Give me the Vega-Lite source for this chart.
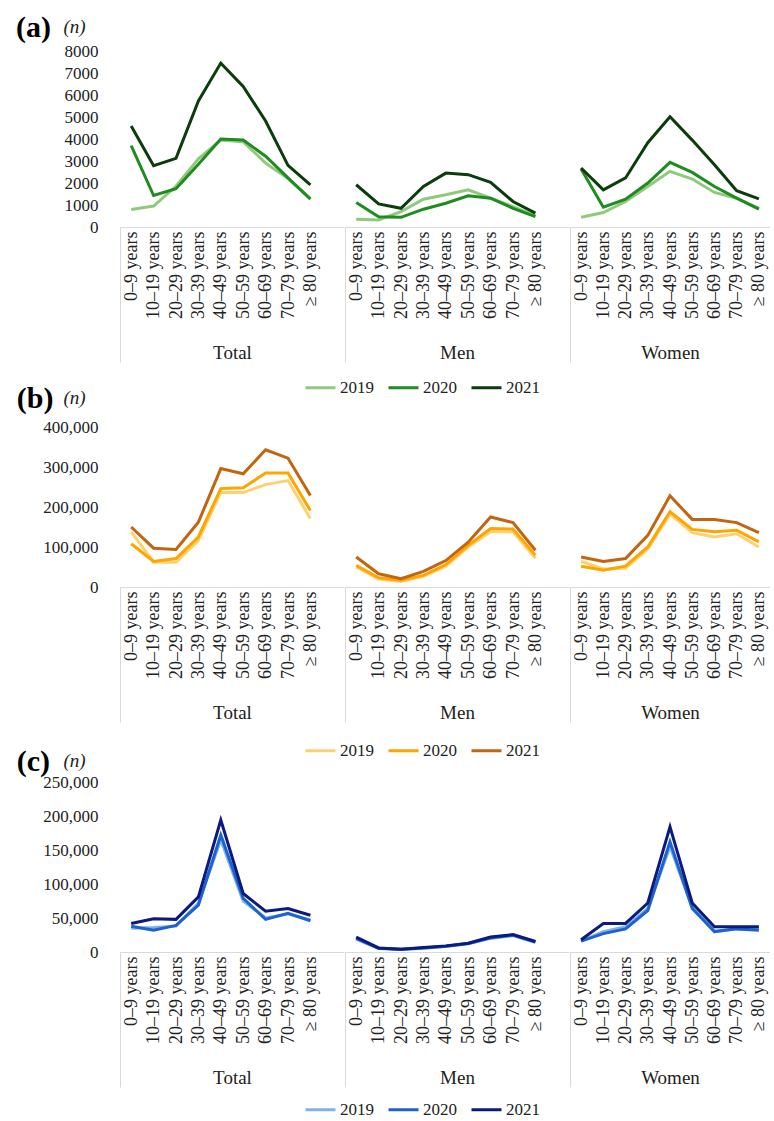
{
  "$schema": "https://vega.github.io/schema/vega-lite/v6.json",
  "background": "white",
  "padding": {"left": 16, "top": 13, "right": 0, "bottom": 0},
  "config": {
    "view": {"stroke": null},
    "font": "Liberation Serif",
    "line": {"strokeWidth": 3},
    "axisX": {
      "grid": false,
      "domainColor": "#d9d9d9",
      "domainWidth": 1,
      "tickBand": "extent",
      "tickColor": "#d9d9d9",
      "tickWidth": 1,
      "tickSize": 135,
      "labelAngle": 270,
      "labelPadding": -131,
      "labelFont": "Liberation Serif",
      "labelColor": "#222222",
      "labelOverlap": false,
      "titlePadding": -19,
      "titleFont": "Liberation Serif",
      "titleFontSize": 19,
      "titleFontWeight": "normal",
      "titleColor": "#222222"
    },
    "axisY": {
      "grid": false,
      "domain": false,
      "ticks": false,
      "labelPadding": 22,
      "labelFont": "Liberation Serif",
      "labelFontSize": 17,
      "labelColor": "#222222",
      "titleAngle": 0,
      "titleAlign": "left",
      "titleBaseline": "middle",
      "titleFont": "Liberation Serif",
      "titleFontStyle": "italic",
      "titleFontWeight": "normal",
      "titleFontSize": 19,
      "titleColor": "#222222"
    },
    "legend": {
      "direction": "horizontal",
      "symbolType": "stroke",
      "symbolStrokeWidth": 3.5,
      "symbolSize": 900,
      "labelFont": "Liberation Serif",
      "labelFontSize": 17,
      "labelColor": "#222222",
      "labelOffset": 3,
      "columnPadding": 8
    },
    "title": {
      "font": "Liberation Serif",
      "fontSize": 30,
      "fontWeight": "bold",
      "color": "#000000",
      "anchor": "start",
      "frame": "bounds",
      "offset": -26
    }
  },
  "datasets": {
    "a": [
      {"g": "Total", "age": "0–9 years", "year": "2019", "n": 800},
      {"g": "Total", "age": "10–19 years", "year": "2019", "n": 950},
      {"g": "Total", "age": "20–29 years", "year": "2019", "n": 1850},
      {"g": "Total", "age": "30–39 years", "year": "2019", "n": 3100},
      {"g": "Total", "age": "40–49 years", "year": "2019", "n": 3950},
      {"g": "Total", "age": "50–59 years", "year": "2019", "n": 3880},
      {"g": "Total", "age": "60–69 years", "year": "2019", "n": 2900},
      {"g": "Total", "age": "70–79 years", "year": "2019", "n": 2200},
      {"g": "Total", "age": "≥ 80 years", "year": "2019", "n": 1300},
      {"g": "Total", "age": "0–9 years", "year": "2020", "n": 3700},
      {"g": "Total", "age": "10–19 years", "year": "2020", "n": 1430},
      {"g": "Total", "age": "20–29 years", "year": "2020", "n": 1740},
      {"g": "Total", "age": "30–39 years", "year": "2020", "n": 2850},
      {"g": "Total", "age": "40–49 years", "year": "2020", "n": 4000},
      {"g": "Total", "age": "50–59 years", "year": "2020", "n": 3950},
      {"g": "Total", "age": "60–69 years", "year": "2020", "n": 3220},
      {"g": "Total", "age": "70–79 years", "year": "2020", "n": 2230},
      {"g": "Total", "age": "≥ 80 years", "year": "2020", "n": 1270},
      {"g": "Total", "age": "0–9 years", "year": "2021", "n": 4590},
      {"g": "Total", "age": "10–19 years", "year": "2021", "n": 2790},
      {"g": "Total", "age": "20–29 years", "year": "2021", "n": 3120},
      {"g": "Total", "age": "30–39 years", "year": "2021", "n": 5730},
      {"g": "Total", "age": "40–49 years", "year": "2021", "n": 7450},
      {"g": "Total", "age": "50–59 years", "year": "2021", "n": 6390},
      {"g": "Total", "age": "60–69 years", "year": "2021", "n": 4820},
      {"g": "Total", "age": "70–79 years", "year": "2021", "n": 2800},
      {"g": "Total", "age": "≥ 80 years", "year": "2021", "n": 1920},
      {"g": "Men", "age": "0–9 years", "year": "2019", "n": 350},
      {"g": "Men", "age": "10–19 years", "year": "2019", "n": 320},
      {"g": "Men", "age": "20–29 years", "year": "2019", "n": 700},
      {"g": "Men", "age": "30–39 years", "year": "2019", "n": 1265},
      {"g": "Men", "age": "40–49 years", "year": "2019", "n": 1465},
      {"g": "Men", "age": "50–59 years", "year": "2019", "n": 1690},
      {"g": "Men", "age": "60–69 years", "year": "2019", "n": 1310},
      {"g": "Men", "age": "70–79 years", "year": "2019", "n": 930},
      {"g": "Men", "age": "≥ 80 years", "year": "2019", "n": 500},
      {"g": "Men", "age": "0–9 years", "year": "2020", "n": 1110},
      {"g": "Men", "age": "10–19 years", "year": "2020", "n": 470},
      {"g": "Men", "age": "20–29 years", "year": "2020", "n": 440},
      {"g": "Men", "age": "30–39 years", "year": "2020", "n": 810},
      {"g": "Men", "age": "40–49 years", "year": "2020", "n": 1080},
      {"g": "Men", "age": "50–59 years", "year": "2020", "n": 1420},
      {"g": "Men", "age": "60–69 years", "year": "2020", "n": 1310},
      {"g": "Men", "age": "70–79 years", "year": "2020", "n": 850},
      {"g": "Men", "age": "≥ 80 years", "year": "2020", "n": 470},
      {"g": "Men", "age": "0–9 years", "year": "2021", "n": 1920},
      {"g": "Men", "age": "10–19 years", "year": "2021", "n": 1050},
      {"g": "Men", "age": "20–29 years", "year": "2021", "n": 850},
      {"g": "Men", "age": "30–39 years", "year": "2021", "n": 1840},
      {"g": "Men", "age": "40–49 years", "year": "2021", "n": 2450},
      {"g": "Men", "age": "50–59 years", "year": "2021", "n": 2380},
      {"g": "Men", "age": "60–69 years", "year": "2021", "n": 2030},
      {"g": "Men", "age": "70–79 years", "year": "2021", "n": 1160},
      {"g": "Men", "age": "≥ 80 years", "year": "2021", "n": 630},
      {"g": "Women", "age": "0–9 years", "year": "2019", "n": 440},
      {"g": "Women", "age": "10–19 years", "year": "2019", "n": 655},
      {"g": "Women", "age": "20–29 years", "year": "2019", "n": 1160},
      {"g": "Women", "age": "30–39 years", "year": "2019", "n": 1840},
      {"g": "Women", "age": "40–49 years", "year": "2019", "n": 2530},
      {"g": "Women", "age": "50–59 years", "year": "2019", "n": 2180},
      {"g": "Women", "age": "60–69 years", "year": "2019", "n": 1570},
      {"g": "Women", "age": "70–79 years", "year": "2019", "n": 1310},
      {"g": "Women", "age": "≥ 80 years", "year": "2019", "n": 850},
      {"g": "Women", "age": "0–9 years", "year": "2020", "n": 2640},
      {"g": "Women", "age": "10–19 years", "year": "2020", "n": 900},
      {"g": "Women", "age": "20–29 years", "year": "2020", "n": 1265},
      {"g": "Women", "age": "30–39 years", "year": "2020", "n": 2000},
      {"g": "Women", "age": "40–49 years", "year": "2020", "n": 2940},
      {"g": "Women", "age": "50–59 years", "year": "2020", "n": 2480},
      {"g": "Women", "age": "60–69 years", "year": "2020", "n": 1840},
      {"g": "Women", "age": "70–79 years", "year": "2020", "n": 1310},
      {"g": "Women", "age": "≥ 80 years", "year": "2020", "n": 810},
      {"g": "Women", "age": "0–9 years", "year": "2021", "n": 2680},
      {"g": "Women", "age": "10–19 years", "year": "2021", "n": 1690},
      {"g": "Women", "age": "20–29 years", "year": "2021", "n": 2230},
      {"g": "Women", "age": "30–39 years", "year": "2021", "n": 3830},
      {"g": "Women", "age": "40–49 years", "year": "2021", "n": 5010},
      {"g": "Women", "age": "50–59 years", "year": "2021", "n": 3950},
      {"g": "Women", "age": "60–69 years", "year": "2021", "n": 2830},
      {"g": "Women", "age": "70–79 years", "year": "2021", "n": 1650},
      {"g": "Women", "age": "≥ 80 years", "year": "2021", "n": 1280}
    ],
    "b": [
      {"g": "Total", "age": "0–9 years", "year": "2019", "n": 138000},
      {"g": "Total", "age": "10–19 years", "year": "2019", "n": 62000},
      {"g": "Total", "age": "20–29 years", "year": "2019", "n": 62000},
      {"g": "Total", "age": "30–39 years", "year": "2019", "n": 116000},
      {"g": "Total", "age": "40–49 years", "year": "2019", "n": 237000},
      {"g": "Total", "age": "50–59 years", "year": "2019", "n": 236000},
      {"g": "Total", "age": "60–69 years", "year": "2019", "n": 256000},
      {"g": "Total", "age": "70–79 years", "year": "2019", "n": 266000},
      {"g": "Total", "age": "≥ 80 years", "year": "2019", "n": 171000},
      {"g": "Total", "age": "0–9 years", "year": "2020", "n": 108000},
      {"g": "Total", "age": "10–19 years", "year": "2020", "n": 64000},
      {"g": "Total", "age": "20–29 years", "year": "2020", "n": 71000},
      {"g": "Total", "age": "30–39 years", "year": "2020", "n": 125000},
      {"g": "Total", "age": "40–49 years", "year": "2020", "n": 246000},
      {"g": "Total", "age": "50–59 years", "year": "2020", "n": 248000},
      {"g": "Total", "age": "60–69 years", "year": "2020", "n": 285000},
      {"g": "Total", "age": "70–79 years", "year": "2020", "n": 285000},
      {"g": "Total", "age": "≥ 80 years", "year": "2020", "n": 191000},
      {"g": "Total", "age": "0–9 years", "year": "2021", "n": 150000},
      {"g": "Total", "age": "10–19 years", "year": "2021", "n": 97000},
      {"g": "Total", "age": "20–29 years", "year": "2021", "n": 94000},
      {"g": "Total", "age": "30–39 years", "year": "2021", "n": 162000},
      {"g": "Total", "age": "40–49 years", "year": "2021", "n": 296000},
      {"g": "Total", "age": "50–59 years", "year": "2021", "n": 283000},
      {"g": "Total", "age": "60–69 years", "year": "2021", "n": 343000},
      {"g": "Total", "age": "70–79 years", "year": "2021", "n": 322000},
      {"g": "Total", "age": "≥ 80 years", "year": "2021", "n": 229000},
      {"g": "Men", "age": "0–9 years", "year": "2019", "n": 50000},
      {"g": "Men", "age": "10–19 years", "year": "2019", "n": 20000},
      {"g": "Men", "age": "20–29 years", "year": "2019", "n": 14000},
      {"g": "Men", "age": "30–39 years", "year": "2019", "n": 27000},
      {"g": "Men", "age": "40–49 years", "year": "2019", "n": 52000},
      {"g": "Men", "age": "50–59 years", "year": "2019", "n": 100000},
      {"g": "Men", "age": "60–69 years", "year": "2019", "n": 138000},
      {"g": "Men", "age": "70–79 years", "year": "2019", "n": 138000},
      {"g": "Men", "age": "≥ 80 years", "year": "2019", "n": 72000},
      {"g": "Men", "age": "0–9 years", "year": "2020", "n": 54000},
      {"g": "Men", "age": "10–19 years", "year": "2020", "n": 23000},
      {"g": "Men", "age": "20–29 years", "year": "2020", "n": 17000},
      {"g": "Men", "age": "30–39 years", "year": "2020", "n": 29000},
      {"g": "Men", "age": "40–49 years", "year": "2020", "n": 56000},
      {"g": "Men", "age": "50–59 years", "year": "2020", "n": 104000},
      {"g": "Men", "age": "60–69 years", "year": "2020", "n": 146000},
      {"g": "Men", "age": "70–79 years", "year": "2020", "n": 145000},
      {"g": "Men", "age": "≥ 80 years", "year": "2020", "n": 79000},
      {"g": "Men", "age": "0–9 years", "year": "2021", "n": 75000},
      {"g": "Men", "age": "10–19 years", "year": "2021", "n": 33000},
      {"g": "Men", "age": "20–29 years", "year": "2021", "n": 21000},
      {"g": "Men", "age": "30–39 years", "year": "2021", "n": 39000},
      {"g": "Men", "age": "40–49 years", "year": "2021", "n": 66000},
      {"g": "Men", "age": "50–59 years", "year": "2021", "n": 112000},
      {"g": "Men", "age": "60–69 years", "year": "2021", "n": 175000},
      {"g": "Men", "age": "70–79 years", "year": "2021", "n": 161000},
      {"g": "Men", "age": "≥ 80 years", "year": "2021", "n": 92000},
      {"g": "Women", "age": "0–9 years", "year": "2019", "n": 64000},
      {"g": "Women", "age": "10–19 years", "year": "2019", "n": 45000},
      {"g": "Women", "age": "20–29 years", "year": "2019", "n": 47000},
      {"g": "Women", "age": "30–39 years", "year": "2019", "n": 95000},
      {"g": "Women", "age": "40–49 years", "year": "2019", "n": 182000},
      {"g": "Women", "age": "50–59 years", "year": "2019", "n": 136000},
      {"g": "Women", "age": "60–69 years", "year": "2019", "n": 125000},
      {"g": "Women", "age": "70–79 years", "year": "2019", "n": 133000},
      {"g": "Women", "age": "≥ 80 years", "year": "2019", "n": 100000},
      {"g": "Women", "age": "0–9 years", "year": "2020", "n": 52000},
      {"g": "Women", "age": "10–19 years", "year": "2020", "n": 42000},
      {"g": "Women", "age": "20–29 years", "year": "2020", "n": 52000},
      {"g": "Women", "age": "30–39 years", "year": "2020", "n": 100000},
      {"g": "Women", "age": "40–49 years", "year": "2020", "n": 188000},
      {"g": "Women", "age": "50–59 years", "year": "2020", "n": 144000},
      {"g": "Women", "age": "60–69 years", "year": "2020", "n": 138000},
      {"g": "Women", "age": "70–79 years", "year": "2020", "n": 142000},
      {"g": "Women", "age": "≥ 80 years", "year": "2020", "n": 113000},
      {"g": "Women", "age": "0–9 years", "year": "2021", "n": 75000},
      {"g": "Women", "age": "10–19 years", "year": "2021", "n": 64000},
      {"g": "Women", "age": "20–29 years", "year": "2021", "n": 71000},
      {"g": "Women", "age": "30–39 years", "year": "2021", "n": 129000},
      {"g": "Women", "age": "40–49 years", "year": "2021", "n": 228000},
      {"g": "Women", "age": "50–59 years", "year": "2021", "n": 169000},
      {"g": "Women", "age": "60–69 years", "year": "2021", "n": 169000},
      {"g": "Women", "age": "70–79 years", "year": "2021", "n": 161000},
      {"g": "Women", "age": "≥ 80 years", "year": "2021", "n": 136000}
    ],
    "c": [
      {"g": "Total", "age": "0–9 years", "year": "2019", "n": 35000},
      {"g": "Total", "age": "10–19 years", "year": "2019", "n": 36000},
      {"g": "Total", "age": "20–29 years", "year": "2019", "n": 38000},
      {"g": "Total", "age": "30–39 years", "year": "2019", "n": 72000},
      {"g": "Total", "age": "40–49 years", "year": "2019", "n": 165000},
      {"g": "Total", "age": "50–59 years", "year": "2019", "n": 75000},
      {"g": "Total", "age": "60–69 years", "year": "2019", "n": 50000},
      {"g": "Total", "age": "70–79 years", "year": "2019", "n": 56000},
      {"g": "Total", "age": "≥ 80 years", "year": "2019", "n": 47000},
      {"g": "Total", "age": "0–9 years", "year": "2020", "n": 38000},
      {"g": "Total", "age": "10–19 years", "year": "2020", "n": 32000},
      {"g": "Total", "age": "20–29 years", "year": "2020", "n": 39000},
      {"g": "Total", "age": "30–39 years", "year": "2020", "n": 69000},
      {"g": "Total", "age": "40–49 years", "year": "2020", "n": 172000},
      {"g": "Total", "age": "50–59 years", "year": "2020", "n": 79000},
      {"g": "Total", "age": "60–69 years", "year": "2020", "n": 48000},
      {"g": "Total", "age": "70–79 years", "year": "2020", "n": 57000},
      {"g": "Total", "age": "≥ 80 years", "year": "2020", "n": 46000},
      {"g": "Total", "age": "0–9 years", "year": "2021", "n": 42000},
      {"g": "Total", "age": "10–19 years", "year": "2021", "n": 49000},
      {"g": "Total", "age": "20–29 years", "year": "2021", "n": 48000},
      {"g": "Total", "age": "30–39 years", "year": "2021", "n": 81000},
      {"g": "Total", "age": "40–49 years", "year": "2021", "n": 194000},
      {"g": "Total", "age": "50–59 years", "year": "2021", "n": 86000},
      {"g": "Total", "age": "60–69 years", "year": "2021", "n": 60000},
      {"g": "Total", "age": "70–79 years", "year": "2021", "n": 64000},
      {"g": "Total", "age": "≥ 80 years", "year": "2021", "n": 54000},
      {"g": "Men", "age": "0–9 years", "year": "2019", "n": 19000},
      {"g": "Men", "age": "10–19 years", "year": "2019", "n": 5000},
      {"g": "Men", "age": "20–29 years", "year": "2019", "n": 3500},
      {"g": "Men", "age": "30–39 years", "year": "2019", "n": 5500},
      {"g": "Men", "age": "40–49 years", "year": "2019", "n": 8000},
      {"g": "Men", "age": "50–59 years", "year": "2019", "n": 12000},
      {"g": "Men", "age": "60–69 years", "year": "2019", "n": 20000},
      {"g": "Men", "age": "70–79 years", "year": "2019", "n": 24000},
      {"g": "Men", "age": "≥ 80 years", "year": "2019", "n": 14000},
      {"g": "Men", "age": "0–9 years", "year": "2020", "n": 20000},
      {"g": "Men", "age": "10–19 years", "year": "2020", "n": 5500},
      {"g": "Men", "age": "20–29 years", "year": "2020", "n": 4000},
      {"g": "Men", "age": "30–39 years", "year": "2020", "n": 6000},
      {"g": "Men", "age": "40–49 years", "year": "2020", "n": 8500},
      {"g": "Men", "age": "50–59 years", "year": "2020", "n": 12500},
      {"g": "Men", "age": "60–69 years", "year": "2020", "n": 21000},
      {"g": "Men", "age": "70–79 years", "year": "2020", "n": 25000},
      {"g": "Men", "age": "≥ 80 years", "year": "2020", "n": 15000},
      {"g": "Men", "age": "0–9 years", "year": "2021", "n": 22000},
      {"g": "Men", "age": "10–19 years", "year": "2021", "n": 6000},
      {"g": "Men", "age": "20–29 years", "year": "2021", "n": 4000},
      {"g": "Men", "age": "30–39 years", "year": "2021", "n": 6500},
      {"g": "Men", "age": "40–49 years", "year": "2021", "n": 9000},
      {"g": "Men", "age": "50–59 years", "year": "2021", "n": 13000},
      {"g": "Men", "age": "60–69 years", "year": "2021", "n": 22000},
      {"g": "Men", "age": "70–79 years", "year": "2021", "n": 25600},
      {"g": "Men", "age": "≥ 80 years", "year": "2021", "n": 15500},
      {"g": "Women", "age": "0–9 years", "year": "2019", "n": 16000},
      {"g": "Women", "age": "10–19 years", "year": "2019", "n": 30000},
      {"g": "Women", "age": "20–29 years", "year": "2019", "n": 37000},
      {"g": "Women", "age": "30–39 years", "year": "2019", "n": 64000},
      {"g": "Women", "age": "40–49 years", "year": "2019", "n": 155000},
      {"g": "Women", "age": "50–59 years", "year": "2019", "n": 66000},
      {"g": "Women", "age": "60–69 years", "year": "2019", "n": 30000},
      {"g": "Women", "age": "70–79 years", "year": "2019", "n": 34000},
      {"g": "Women", "age": "≥ 80 years", "year": "2019", "n": 34000},
      {"g": "Women", "age": "0–9 years", "year": "2020", "n": 16000},
      {"g": "Women", "age": "10–19 years", "year": "2020", "n": 27000},
      {"g": "Women", "age": "20–29 years", "year": "2020", "n": 34000},
      {"g": "Women", "age": "30–39 years", "year": "2020", "n": 61000},
      {"g": "Women", "age": "40–49 years", "year": "2020", "n": 162000},
      {"g": "Women", "age": "50–59 years", "year": "2020", "n": 64000},
      {"g": "Women", "age": "60–69 years", "year": "2020", "n": 30000},
      {"g": "Women", "age": "70–79 years", "year": "2020", "n": 34000},
      {"g": "Women", "age": "≥ 80 years", "year": "2020", "n": 32000},
      {"g": "Women", "age": "0–9 years", "year": "2021", "n": 18000},
      {"g": "Women", "age": "10–19 years", "year": "2021", "n": 42000},
      {"g": "Women", "age": "20–29 years", "year": "2021", "n": 42000},
      {"g": "Women", "age": "30–39 years", "year": "2021", "n": 72000},
      {"g": "Women", "age": "40–49 years", "year": "2021", "n": 184000},
      {"g": "Women", "age": "50–59 years", "year": "2021", "n": 72000},
      {"g": "Women", "age": "60–69 years", "year": "2021", "n": 37000},
      {"g": "Women", "age": "70–79 years", "year": "2021", "n": 37000},
      {"g": "Women", "age": "≥ 80 years", "year": "2021", "n": 37000}
    ]
  },
  "spacing": -12,
  "resolve": {"scale": {"color": "independent", "y": "independent", "x": "independent"}},
  "vconcat": [
    {
      "data": {"name": "a"},
      "title": {"text": "(a)", "dx": -47},
      "spacing": 0,
      "resolve": {"scale": {"y": "shared", "color": "shared", "x": "independent"}},
      "hconcat": [
        {
          "transform": [{"filter": "datum.g === 'Total'"}],
          "width": 224, "height": 176,
          "mark": "line",
          "encoding": {
            "x": {"field": "age", "type": "ordinal", "scale": {"type": "band", "domain": ["0–9 years","10–19 years","20–29 years","30–39 years","40–49 years","50–59 years","60–69 years","70–79 years","≥ 80 years"], "paddingInner": 0, "paddingOuter": 0.5, "align": 0}, "axis": {"title": "Total", "tickOpacity": {"condition": {"test": "datum.extra", "value": 1}, "value": 0}, "labelFontSize": {"condition": {"test": "datum.extra", "value": 0}, "value": 18}}},
            "y": {"field": "n", "type": "quantitative", "scale": {"domain": [0, 8000], "nice": false}, "axis": {"values": [0,1000,2000,3000,4000,5000,6000,7000,8000], "format": "d", "title": "(n)", "titleX": -57, "titleY": -25}},
            "color": {"field": "year", "type": "nominal", "scale": {"domain": ["2019","2020","2021"], "range": ["#8fca7c","#1e8c1e","#0c3b0c"]}, "legend": {"title": null, "orient": "none", "legendX": 184, "legendY": 320}}
          }
        },
        {
          "transform": [{"filter": "datum.g === 'Men'"}],
          "width": 224, "height": 176,
          "mark": "line",
          "encoding": {
            "x": {"field": "age", "type": "ordinal", "scale": {"type": "band", "domain": ["0–9 years","10–19 years","20–29 years","30–39 years","40–49 years","50–59 years","60–69 years","70–79 years","≥ 80 years"], "paddingInner": 0, "paddingOuter": 0.5, "align": 0}, "axis": {"title": "Men", "tickOpacity": {"condition": {"test": "datum.extra", "value": 1}, "value": 0}, "labelFontSize": {"condition": {"test": "datum.extra", "value": 0}, "value": 18}}},
            "y": {"field": "n", "type": "quantitative", "scale": {"domain": [0, 8000], "nice": false}, "axis": null},
            "color": {"field": "year", "type": "nominal", "scale": {"domain": ["2019","2020","2021"], "range": ["#8fca7c","#1e8c1e","#0c3b0c"]}, "legend": {"title": null, "orient": "none", "legendX": 184, "legendY": 320}}
          }
        },
        {
          "transform": [{"filter": "datum.g === 'Women'"}],
          "width": 200, "height": 176,
          "mark": "line",
          "encoding": {
            "x": {"field": "age", "type": "ordinal", "scale": {"type": "band", "domain": ["0–9 years","10–19 years","20–29 years","30–39 years","40–49 years","50–59 years","60–69 years","70–79 years","≥ 80 years"], "paddingInner": 0, "paddingOuter": 0}, "axis": {"title": "Women", "tickOpacity": {"condition": {"test": "datum.extra", "value": 1}, "value": 0}, "labelFontSize": {"condition": {"test": "datum.extra", "value": 0}, "value": 18}}},
            "y": {"field": "n", "type": "quantitative", "scale": {"domain": [0, 8000], "nice": false}, "axis": null},
            "color": {"field": "year", "type": "nominal", "scale": {"domain": ["2019","2020","2021"], "range": ["#8fca7c","#1e8c1e","#0c3b0c"]}, "legend": {"title": null, "orient": "none", "legendX": 184, "legendY": 320}}
          }
        }
      ]
    },
    {
      "data": {"name": "b"},
      "title": {"text": "(b)", "dx": -26},
      "spacing": 0,
      "resolve": {"scale": {"y": "shared", "color": "shared", "x": "independent"}},
      "hconcat": [
        {
          "transform": [{"filter": "datum.g === 'Total'"}],
          "width": 224, "height": 160,
          "mark": "line",
          "encoding": {
            "x": {"field": "age", "type": "ordinal", "scale": {"type": "band", "domain": ["0–9 years","10–19 years","20–29 years","30–39 years","40–49 years","50–59 years","60–69 years","70–79 years","≥ 80 years"], "paddingInner": 0, "paddingOuter": 0.5, "align": 0}, "axis": {"title": "Total", "tickOpacity": {"condition": {"test": "datum.extra", "value": 1}, "value": 0}, "labelFontSize": {"condition": {"test": "datum.extra", "value": 0}, "value": 18}}},
            "y": {"field": "n", "type": "quantitative", "scale": {"domain": [0, 400000], "nice": false}, "axis": {"values": [0,100000,200000,300000,400000], "format": ",d", "title": "(n)", "titleX": -57, "titleY": -30}},
            "color": {"field": "year", "type": "nominal", "scale": {"domain": ["2019","2020","2021"], "range": ["#ffd070","#fea500","#c3650e"]}, "legend": {"title": null, "orient": "none", "legendX": 184, "legendY": 307}}
          }
        },
        {
          "transform": [{"filter": "datum.g === 'Men'"}],
          "width": 224, "height": 160,
          "mark": "line",
          "encoding": {
            "x": {"field": "age", "type": "ordinal", "scale": {"type": "band", "domain": ["0–9 years","10–19 years","20–29 years","30–39 years","40–49 years","50–59 years","60–69 years","70–79 years","≥ 80 years"], "paddingInner": 0, "paddingOuter": 0.5, "align": 0}, "axis": {"title": "Men", "tickOpacity": {"condition": {"test": "datum.extra", "value": 1}, "value": 0}, "labelFontSize": {"condition": {"test": "datum.extra", "value": 0}, "value": 18}}},
            "y": {"field": "n", "type": "quantitative", "scale": {"domain": [0, 400000], "nice": false}, "axis": null},
            "color": {"field": "year", "type": "nominal", "scale": {"domain": ["2019","2020","2021"], "range": ["#ffd070","#fea500","#c3650e"]}, "legend": {"title": null, "orient": "none", "legendX": 184, "legendY": 307}}
          }
        },
        {
          "transform": [{"filter": "datum.g === 'Women'"}],
          "width": 200, "height": 160,
          "mark": "line",
          "encoding": {
            "x": {"field": "age", "type": "ordinal", "scale": {"type": "band", "domain": ["0–9 years","10–19 years","20–29 years","30–39 years","40–49 years","50–59 years","60–69 years","70–79 years","≥ 80 years"], "paddingInner": 0, "paddingOuter": 0}, "axis": {"title": "Women", "tickOpacity": {"condition": {"test": "datum.extra", "value": 1}, "value": 0}, "labelFontSize": {"condition": {"test": "datum.extra", "value": 0}, "value": 18}}},
            "y": {"field": "n", "type": "quantitative", "scale": {"domain": [0, 400000], "nice": false}, "axis": null},
            "color": {"field": "year", "type": "nominal", "scale": {"domain": ["2019","2020","2021"], "range": ["#ffd070","#fea500","#c3650e"]}, "legend": {"title": null, "orient": "none", "legendX": 184, "legendY": 307}}
          }
        }
      ]
    },
    {
      "data": {"name": "c"},
      "title": {"text": "(c)", "dx": -26},
      "spacing": 0,
      "resolve": {"scale": {"y": "shared", "color": "shared", "x": "independent"}},
      "hconcat": [
        {
          "transform": [{"filter": "datum.g === 'Total'"}],
          "width": 224, "height": 170,
          "mark": "line",
          "encoding": {
            "x": {"field": "age", "type": "ordinal", "scale": {"type": "band", "domain": ["0–9 years","10–19 years","20–29 years","30–39 years","40–49 years","50–59 years","60–69 years","70–79 years","≥ 80 years"], "paddingInner": 0, "paddingOuter": 0.5, "align": 0}, "axis": {"title": "Total", "tickOpacity": {"condition": {"test": "datum.extra", "value": 1}, "value": 0}, "labelFontSize": {"condition": {"test": "datum.extra", "value": 0}, "value": 18}}},
            "y": {"field": "n", "type": "quantitative", "scale": {"domain": [0, 250000], "nice": false}, "axis": {"values": [0,50000,100000,150000,200000,250000], "format": ",d", "title": "(n)", "titleX": -57, "titleY": -22}},
            "color": {"field": "year", "type": "nominal", "scale": {"domain": ["2019","2020","2021"], "range": ["#7fb2e6","#1c63cf","#0b1a80"]}, "legend": {"title": null, "orient": "none", "legendX": 184, "legendY": 311}}
          }
        },
        {
          "transform": [{"filter": "datum.g === 'Men'"}],
          "width": 224, "height": 170,
          "mark": "line",
          "encoding": {
            "x": {"field": "age", "type": "ordinal", "scale": {"type": "band", "domain": ["0–9 years","10–19 years","20–29 years","30–39 years","40–49 years","50–59 years","60–69 years","70–79 years","≥ 80 years"], "paddingInner": 0, "paddingOuter": 0.5, "align": 0}, "axis": {"title": "Men", "tickOpacity": {"condition": {"test": "datum.extra", "value": 1}, "value": 0}, "labelFontSize": {"condition": {"test": "datum.extra", "value": 0}, "value": 18}}},
            "y": {"field": "n", "type": "quantitative", "scale": {"domain": [0, 250000], "nice": false}, "axis": null},
            "color": {"field": "year", "type": "nominal", "scale": {"domain": ["2019","2020","2021"], "range": ["#7fb2e6","#1c63cf","#0b1a80"]}, "legend": {"title": null, "orient": "none", "legendX": 184, "legendY": 311}}
          }
        },
        {
          "transform": [{"filter": "datum.g === 'Women'"}],
          "width": 200, "height": 170,
          "mark": "line",
          "encoding": {
            "x": {"field": "age", "type": "ordinal", "scale": {"type": "band", "domain": ["0–9 years","10–19 years","20–29 years","30–39 years","40–49 years","50–59 years","60–69 years","70–79 years","≥ 80 years"], "paddingInner": 0, "paddingOuter": 0}, "axis": {"title": "Women", "tickOpacity": {"condition": {"test": "datum.extra", "value": 1}, "value": 0}, "labelFontSize": {"condition": {"test": "datum.extra", "value": 0}, "value": 18}}},
            "y": {"field": "n", "type": "quantitative", "scale": {"domain": [0, 250000], "nice": false}, "axis": null},
            "color": {"field": "year", "type": "nominal", "scale": {"domain": ["2019","2020","2021"], "range": ["#7fb2e6","#1c63cf","#0b1a80"]}, "legend": {"title": null, "orient": "none", "legendX": 184, "legendY": 311}}
          }
        }
      ]
    }
  ]
}
